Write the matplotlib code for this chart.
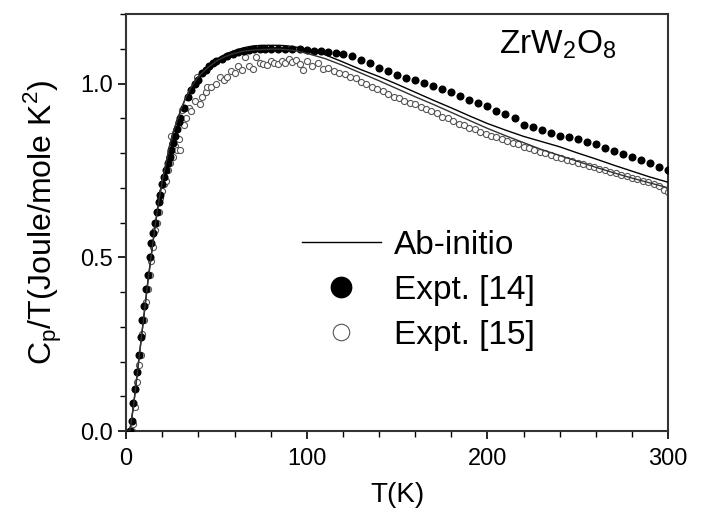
import matplotlib
matplotlib.use('Agg')
import matplotlib.pyplot as plt
from matplotlib.ticker import MultipleLocator

plt.rcParams['font.family'] = ['Liberation Sans', 'DejaVu Sans']

# ab-initio curves (two thin lines)
t_calc = [0, 2, 4, 6, 8, 10, 12, 14, 16, 18, 20, 22, 24, 26, 28, 30, 33, 36, 40, 45,
          50, 55, 60, 65, 70, 75, 80, 85, 90, 95, 100, 110, 120, 130, 140, 150, 160,
          170, 180, 190, 200, 210, 220, 230, 240, 250, 260, 270, 280, 290, 300]
cp_calc1 = [0, 0.0, 0.07, 0.16, 0.25, 0.34, 0.43, 0.51, 0.59, 0.66, 0.72, 0.77, 0.82,
            0.86, 0.89, 0.92, 0.96, 0.99, 1.02, 1.05, 1.07, 1.085, 1.095, 1.103, 1.108,
            1.11, 1.11, 1.11, 1.108, 1.104, 1.098, 1.083, 1.062, 1.04, 1.02, 0.998,
            0.975, 0.952, 0.93, 0.907, 0.885, 0.866, 0.848, 0.833, 0.818, 0.80, 0.783,
            0.765, 0.748, 0.731, 0.716]
cp_calc2 = [0, 0.0, 0.07, 0.16, 0.25, 0.34, 0.43, 0.51, 0.59, 0.66, 0.72, 0.77, 0.82,
            0.86, 0.89, 0.92, 0.96, 0.99, 1.02, 1.045, 1.065, 1.078, 1.087, 1.093, 1.096,
            1.098, 1.099, 1.099, 1.097, 1.093, 1.087, 1.072, 1.052, 1.03, 1.008, 0.985,
            0.962, 0.94, 0.917, 0.894, 0.871, 0.85, 0.83, 0.81, 0.793, 0.776, 0.759,
            0.743, 0.728, 0.714, 0.70]

# Expt. [14]
t_exp14 = [2, 3, 4, 5, 6, 7, 8, 9, 10, 11, 12, 13, 14, 15, 16, 17, 18, 19, 20, 21, 22,
           23, 24, 25, 26, 27, 28, 29, 30, 32, 34, 36, 38, 40, 42, 44, 46, 48, 50, 53,
           56, 59, 62, 65, 68, 71, 74, 77, 80, 84, 88, 92, 96, 100, 104, 108, 112, 116,
           120, 125, 130, 135, 140, 145, 150, 155, 160, 165, 170, 175, 180, 185, 190,
           195, 200, 205, 210, 215, 220, 225, 230, 235, 240, 245, 250, 255, 260, 265,
           270, 275, 280, 285, 290, 295, 300]
cp_exp14 = [0.0, 0.03, 0.08, 0.12, 0.17, 0.22, 0.27, 0.32, 0.36, 0.41, 0.45, 0.50, 0.54,
            0.57, 0.60, 0.63, 0.66, 0.68, 0.71, 0.73, 0.75, 0.77, 0.79, 0.81, 0.83, 0.85,
            0.87, 0.89, 0.90, 0.93, 0.96, 0.98, 1.00, 1.01, 1.03, 1.04, 1.05, 1.06, 1.065,
            1.07, 1.08, 1.085, 1.09, 1.093, 1.096, 1.098, 1.10, 1.10, 1.10, 1.10, 1.10,
            1.10, 1.10, 1.097, 1.095, 1.093, 1.09, 1.088, 1.085, 1.078, 1.068, 1.058,
            1.046, 1.036, 1.026, 1.017, 1.009, 1.001, 0.994, 0.985, 0.975, 0.965, 0.954,
            0.944, 0.934, 0.922, 0.912, 0.902, 0.882, 0.874, 0.865, 0.858, 0.85, 0.845,
            0.84, 0.833, 0.825, 0.815, 0.805, 0.798, 0.79, 0.78, 0.77, 0.76, 0.75]

# Expt. [15]
t_exp15 = [3, 4, 5, 6, 7, 8, 9, 10, 11, 12, 13, 14, 15, 16, 17, 18, 19, 20, 21, 22, 23,
           24, 25, 26, 27, 28, 29, 30, 31, 32, 33, 35, 36, 38, 39, 41, 42, 44, 45, 47,
           50, 52, 54, 56, 58, 60, 62, 64, 66, 68, 70, 72, 74, 76, 78, 80, 82, 84, 86,
           88, 90, 92, 94, 96, 98, 100, 103, 106, 109, 112, 115, 118, 121, 124, 127,
           130, 133, 136, 139, 142, 145, 148, 151, 154, 157, 160, 163, 166, 169, 172,
           175, 178, 181, 184, 187, 190, 193, 196, 199, 202, 205, 208, 211, 214, 217,
           220, 223, 226, 229, 232, 235, 238, 241, 244, 247, 250, 253, 256, 259, 262,
           265, 268, 271, 274, 277, 280, 283, 286, 289, 292, 295, 298, 300]
cp_exp15 = [0.0, 0.02, 0.07, 0.14, 0.19, 0.22, 0.28, 0.32, 0.37, 0.41, 0.45, 0.49, 0.53,
            0.58, 0.60, 0.63, 0.67, 0.69, 0.71, 0.72, 0.75, 0.77, 0.85, 0.79, 0.82, 0.81,
            0.84, 0.81, 0.925, 0.88, 0.90, 0.93, 0.92, 0.95, 1.02, 0.94, 0.96, 0.977,
            0.99, 0.99, 1.0, 1.02, 1.01, 1.02, 1.035, 1.03, 1.05, 1.04, 1.077, 1.05,
            1.043, 1.077, 1.06, 1.055, 1.054, 1.065, 1.058, 1.057, 1.066, 1.06, 1.07,
            1.062, 1.068, 1.057, 1.04, 1.066, 1.05, 1.06, 1.043, 1.045, 1.035, 1.03,
            1.028, 1.02, 1.015, 1.005, 1.0, 0.99, 0.985, 0.978, 0.97, 0.962, 0.958,
            0.95, 0.944, 0.94, 0.932, 0.926, 0.92, 0.914, 0.905, 0.9, 0.893, 0.885,
            0.88, 0.873, 0.868, 0.862, 0.855, 0.85, 0.846, 0.84, 0.835, 0.828, 0.825,
            0.818, 0.815, 0.81, 0.803, 0.8, 0.795, 0.79, 0.785, 0.78, 0.777, 0.772,
            0.768, 0.762, 0.76, 0.754, 0.75, 0.745, 0.742, 0.736, 0.733, 0.728, 0.725,
            0.72, 0.716, 0.71, 0.705, 0.695, 0.688]

fig = plt.figure(figsize=(7.01, 5.2), dpi=100)
ax = fig.add_axes([0.18, 0.171, 0.773, 0.802])

ax.plot(t_exp15, cp_exp15, 'o', ms=4.4, mfc='white', mec='#555555', mew=0.8,
        label='Expt. [15]', zorder=2)
ax.plot(t_exp14, cp_exp14, 'o', ms=5.8, mfc='black', mec='black', mew=0,
        label='Expt. [14]', zorder=3)
ax.plot(t_calc, cp_calc1, '-', color='black', lw=1.0, label='Ab-initio', zorder=4)
ax.plot(t_calc, cp_calc2, '-', color='#333333', lw=1.0, zorder=4)

ax.set_xlim(0, 300)
ax.set_ylim(0, 1.2)
ax.xaxis.set_major_locator(MultipleLocator(100))
ax.xaxis.set_minor_locator(MultipleLocator(20))
ax.yaxis.set_major_locator(MultipleLocator(0.5))
ax.yaxis.set_minor_locator(MultipleLocator(0.1))
ax.yaxis.set_major_formatter(plt.FormatStrFormatter('%.1f'))
ax.tick_params(which='both', direction='out', top=False, right=False, labelsize=17)
ax.tick_params(axis='x', pad=6)
ax.tick_params(which='major', length=6, width=1.2)
ax.tick_params(which='minor', length=4, width=1.0)
for s in ax.spines.values():
    s.set_linewidth(1.5)
    s.set_color('#333333')

ax.set_xlabel('T(K)', fontsize=20, labelpad=9)
ax.set_ylabel(r'C$_\mathregular{p}$/T(Joule/mole K$^\mathregular{2}$)', fontsize=23,
              labelpad=12)

ax.text(0.905, 0.965, r'ZrW$_\mathregular{2}$O$_\mathregular{8}$', transform=ax.transAxes,
        ha='right', va='top', fontsize=24)

handles, labels = ax.get_legend_handles_labels()
order = [2, 1, 0]
leg = ax.legend([handles[i] for i in order], [labels[i] for i in order],
                loc='upper left', bbox_to_anchor=(0.325, 0.482), frameon=False,
                fontsize=24, handlelength=2.35, handletextpad=0.4, labelspacing=0.42,
                markerscale=2.7, borderpad=0, borderaxespad=0)

fig.savefig('out.png', dpi=100)
